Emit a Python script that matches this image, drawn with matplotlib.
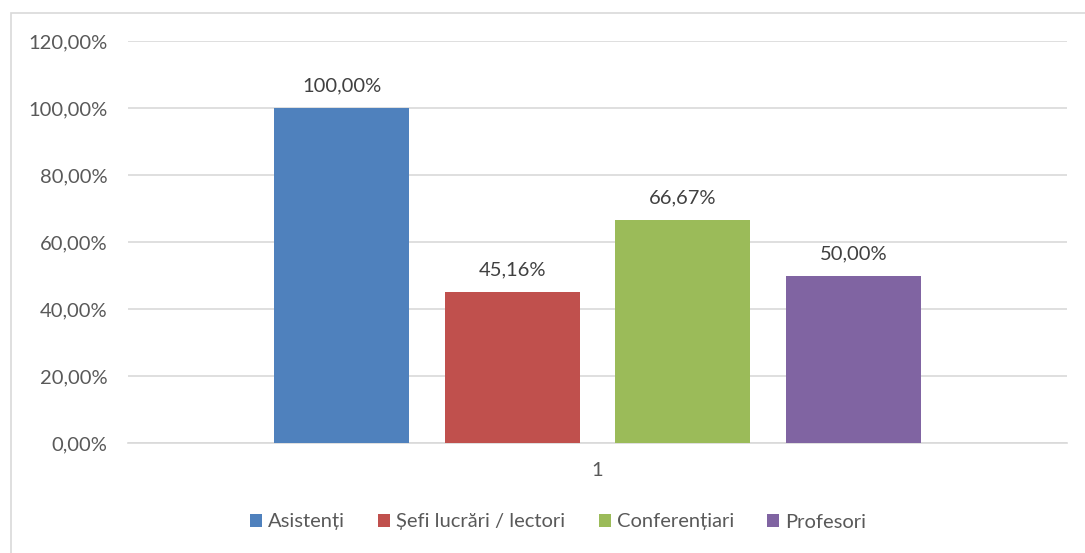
import matplotlib
matplotlib.use("Agg")
import matplotlib.pyplot as plt
from matplotlib.patches import Rectangle

categories = ["1"]
series_names = ["Asistenți", "Șefi lucrări / lectori", "Conferențiari", "Profesori"]
values = [100.00, 45.16, 66.67, 50.00]
colors = ["#4f81bd", "#c0504d", "#9bbb59", "#8064a2"]
yticks = [0, 20, 40, 60, 80, 100, 120]

plt.rcParams['font.family'] = ['Lato', 'DejaVu Sans']
W, H = 1085, 553
FS = 14.5
fig = plt.figure(figsize=(W / 100, H / 100), dpi=100)
fig.patch.set_facecolor("white")

# chart border
fig.add_artist(Rectangle((11 / W, -0.05), 1.1, (H - 13) / H + 0.05, transform=fig.transFigure,
                         fill=False, edgecolor="#d9d9d9", linewidth=1.2))

left, right, top, bottom = 128, 1067, 41, 443
ax = fig.add_axes([left / W, (H - bottom) / H, (right - left) / W, (bottom - top) / H])
ax.set_xlim(-0.5, 0.5)
ax.set_ylim(0, 120)
pw = right - left
bw = 135 / pw
offsets = [-256 / pw, -85 / pw, 85 / pw, 256 / pw]
txtc = "#595959"
for name, v, c, off in zip(series_names, values, colors, offsets):
    ax.bar(off, v, width=bw, color=c, label=name, zorder=3)
    ax.text(off, v + 4.0, f"{v:.2f}".replace(".", ",") + "%", ha="center", va="bottom",
            fontsize=FS, color="#404040")

ax.set_yticks(yticks)
ax.set_yticklabels([f"{t:.2f}".replace(".", ",") + "%" for t in yticks], fontsize=FS, color=txtc)
ax.set_xticks([0])
ax.set_xticklabels(categories, fontsize=FS, color=txtc)
ax.tick_params(axis="both", length=0)
ax.tick_params(axis="y", pad=15)
ax.tick_params(axis="x", pad=14)
ax.grid(axis="y", color="#d9d9d9", linewidth=1.2, zorder=0)
for s in ["top", "right", "left"]:
    ax.spines[s].set_visible(False)
ax.spines["bottom"].set_color("#d9d9d9")
ax.spines["bottom"].set_linewidth(1.2)

leg = fig.legend(loc="center", bbox_to_anchor=(558 / W, (H - 522) / H), ncol=4, frameon=False,
                 fontsize=FS, handlelength=0.6, handleheight=0.6, handletextpad=0.3,
                 columnspacing=1.65)
for t in leg.get_texts():
    t.set_color(txtc)

fig.savefig("out.png", dpi=100)
